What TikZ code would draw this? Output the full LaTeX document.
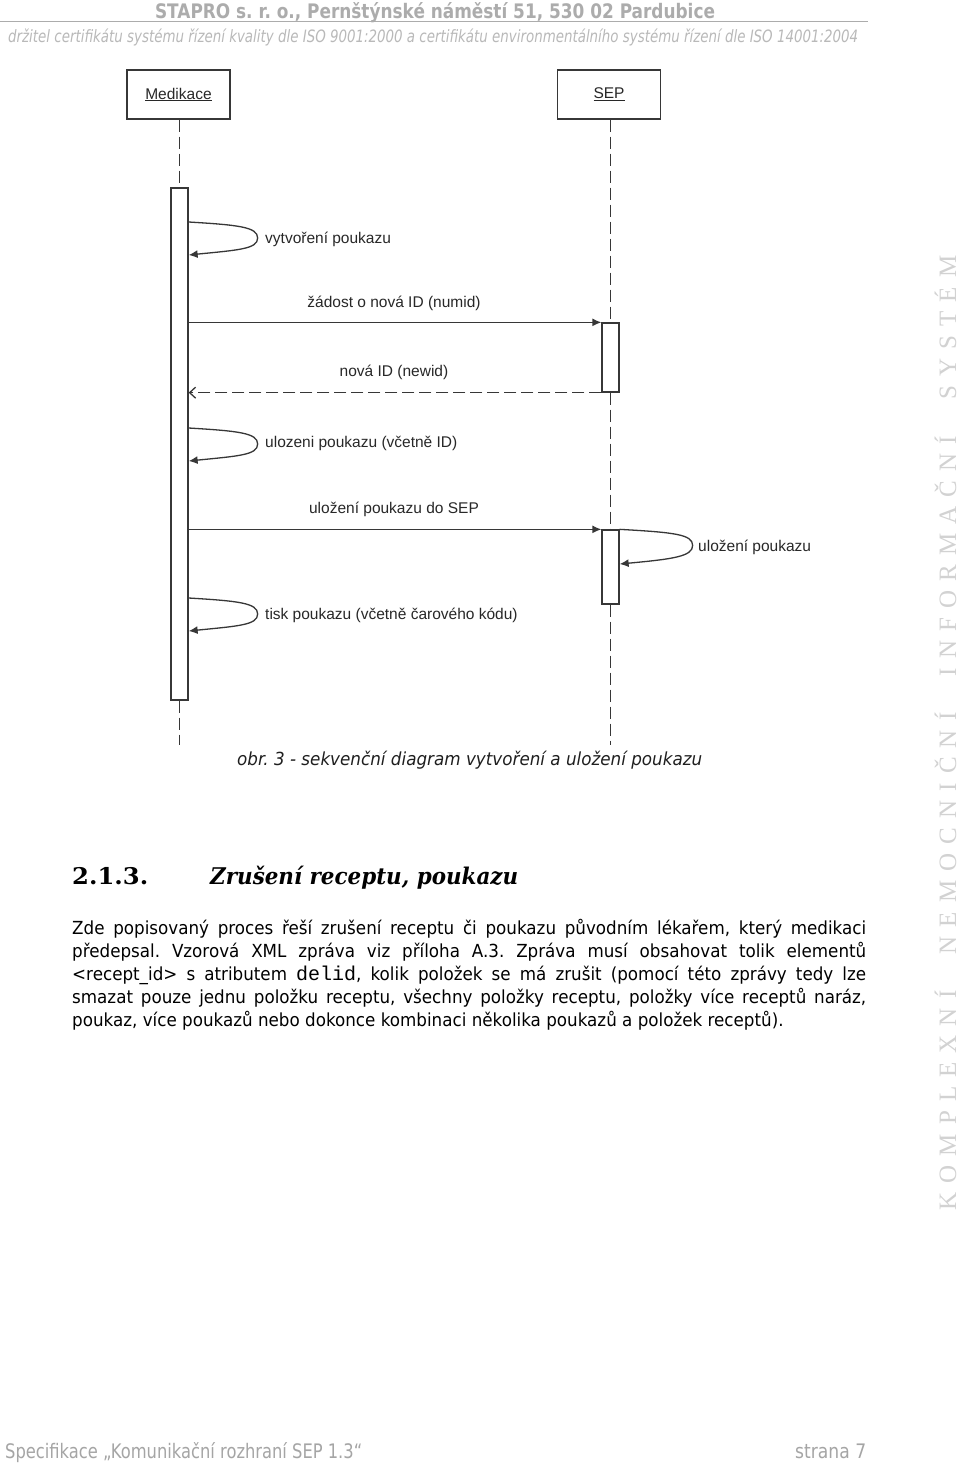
\documentclass[tikz,border=0pt]{standalone}
\usepackage{fontspec}
\usepackage{graphicx}
\usetikzlibrary{arrows.meta}
\setmainfont{Liberation Sans}
\newfontfamily\bodyf[FakeStretch=0.93]{DejaVu Sans}
\newfontfamily\tahf{DejaVu Sans}
\newfontfamily\diagf{Liberation Sans}
\newfontfamily\headf{DejaVu Serif}
\newfontfamily\vertf{Liberation Serif}
\newfontfamily\monof{Liberation Mono}
\definecolor{hdr}{RGB}{172,172,172}
\definecolor{hdrit}{RGB}{185,185,185}
\definecolor{linec}{RGB}{55,55,55}
\definecolor{labc}{RGB}{40,40,40}
\definecolor{vertc}{RGB}{210,210,210}
\definecolor{footc}{RGB}{165,165,165}
\frenchspacing
\begin{document}
\begin{tikzpicture}[x=1pt,y=-1pt,
  lifebox/.style={draw=linec, line width=1.4pt, minimum width=103pt, minimum height=49pt, inner sep=0pt, fill=white, text=labc, font=\diagf\fontsize{15.5}{18}\selectfont},
  actbox/.style={draw=linec, line width=1.3pt, fill=white, minimum width=17pt, inner sep=0pt},
  lifeline/.style={draw=linec, line width=1.3pt, dash pattern=on 12pt off 5pt},
  msg/.style={draw=linec, line width=1.3pt, -{Latex[length=9pt,width=8pt]}},
  ret/.style={draw=linec, line width=1.3pt, dash pattern=on 12pt off 5pt, -{Straight Barb[length=6pt,width=11pt]}},
  mlabel/.style={inner sep=0pt, text=labc, font=\diagf\fontsize{15.5}{18}\selectfont},
  body/.style={inner sep=0pt, text=black, font=\bodyf\fontsize{18}{22}\selectfont},
]
\fill[white] (0,0) rectangle (960,1464);
\useasboundingbox (0,0) rectangle (960,1464);

% page header
\node[anchor=base, inner sep=0pt, text=hdr] (hdr1) at (435,19)
  {\resizebox{560pt}{\height}{\tahf\bfseries\fontsize{20}{24}\selectfont STAPRO s. r. o., Pernštýnské náměstí 51, 530 02 Pardubice}};
\draw[hdr, line width=1pt] (0,22) -- (868,22);
\node[anchor=base west, inner sep=0pt, text=hdrit] (hdr2) at (8,43)
  {\resizebox{850pt}{\height}{\tahf\itshape\fontsize{17}{20}\selectfont držitel certifikátu systému řízení kvality dle ISO 9001:2000 a certifikátu environmentálního systému řízení dle ISO 14001:2004}};

% vertical side text
\node[anchor=base, rotate=90, inner sep=0pt, text=vertc, font=\vertf\fontsize{25}{28}\selectfont] (side) at (956,733)
  {\makebox[955pt][s]{K\hfill O\hfill M\hfill P\hfill L\hfill E\hfill X\hfill N\hfill Í\hfill\hfill\hfill\hfill N\hfill E\hfill M\hfill O\hfill C\hfill N\hfill I\hfill Č\hfill N\hfill Í\hfill\hfill\hfill\hfill I\hfill N\hfill F\hfill O\hfill R\hfill M\hfill A\hfill Č\hfill N\hfill Í\hfill\hfill\hfill\hfill S\hfill Y\hfill S\hfill T\hfill É\hfill M}};

% sequence diagram
\node[lifebox] (med) at (178.5,94.5) {\underline{Medikace}};
\node[lifebox] (sep) at (609,94.5) {\underline{SEP}};
\coordinate (endM) at (179.5,745);
\coordinate (endS) at (610.5,745);

\node[actbox, minimum height=512pt] (actM) at (179.5,444) {};
\node[actbox, minimum height=69pt] (actS1) at (610.5,357.5) {};
\node[actbox, minimum height=74pt] (actS2) at (610.5,567) {};

\draw[lifeline] (med.south -| actM.north) -- (actM.north);
\draw[lifeline] (actM.south) -- (endM);
\draw[lifeline] (sep.south -| actS1.north) -- (actS1.north);
\draw[lifeline] (actS1.south) -- (actS2.north);
\draw[lifeline] (actS2.south) -- (endS);
% redraw boxes over lifelines
\node[actbox, minimum height=512pt] at (actM) {};
\node[actbox, minimum height=69pt] at (actS1) {};
\node[actbox, minimum height=74pt] at (actS2) {};

% messages
\draw[msg] (actM.east |- 0,222) .. controls +(50,3) and +(0,-11) .. ++(69,16)
  .. controls +(0,11) and +(50,-5) .. (actM.east |- 0,255);
\node[mlabel, anchor=base west] (l1) at (265,243) {vytvoření poukazu};

\draw[msg] (actM.east |- actS1.north) -- (actS1.north west);
\node[mlabel, anchor=base] (l2) at (394,307) {žádost o nová ID (numid)};

\draw[ret] (actS1.south west) -- (actM.east |- actS1.south);
\node[mlabel, anchor=base] (l3) at (394,376) {nová ID (newid)};

\draw[msg] (actM.east |- 0,428) .. controls +(50,3) and +(0,-11) .. ++(69,16)
  .. controls +(0,11) and +(50,-5) .. (actM.east |- 0,461);
\node[mlabel, anchor=base west] (l4) at (265,447) {ulozeni poukazu (včetně ID)};

\draw[msg] (actM.east |- actS2.north) -- (actS2.north west);
\node[mlabel, anchor=base] (l5) at (394,513) {uložení poukazu do SEP};

\draw[msg] (actS2.north east) .. controls +(54,3) and +(0,-11) .. ++(73,16)
  .. controls +(0,11) and +(54,-5) .. (actS2.east |- 0,564);
\node[mlabel, anchor=base west] (l6) at (698,551) {uložení poukazu};

\draw[msg] (actM.east |- 0,598) .. controls +(50,3) and +(0,-11) .. ++(69,16)
  .. controls +(0,11) and +(50,-5) .. (actM.east |- 0,631);
\node[mlabel, anchor=base west] (l7) at (265,619) {tisk poukazu (včetně čarového kódu)};

% caption
\node[anchor=base west, inner sep=0pt, text=black!88] (cap) at (237,765)
  {\resizebox{465pt}{\height}{\tahf\itshape\fontsize{18}{22}\selectfont obr. 3 - sekvenční diagram vytvoření a uložení poukazu}};

% heading
\node[anchor=base west, inner sep=0pt] (hnum) at (72,884)
  {\resizebox{76pt}{\height}{\headf\bfseries\fontsize{23}{26}\selectfont 2.1.3.}};
\node[anchor=base west, inner sep=0pt] (htitle) at (210,884)
  {\resizebox{308pt}{\height}{\headf\bfseries\itshape\fontsize{23}{26}\selectfont Zrušení receptu, poukazu}};

% paragraph
\node[body, anchor=base west] (p1) at (72,934) {\makebox[794pt][s]{Zde popisovaný proces řeší zrušení receptu či poukazu původním lékařem, který medikaci}};
\node[body, anchor=base west] (p2) at (72,957) {\makebox[794pt][s]{předepsal. Vzorová XML zpráva viz příloha A.3. Zpráva musí obsahovat tolik elementů}};
\node[body, anchor=base west] (p3) at (72,980) {\makebox[794pt][s]{<recept\_id> s atributem {\monof\fontsize{20}{22}\selectfont delid}, kolik položek se má zrušit (pomocí této zprávy tedy lze}};
\node[body, anchor=base west] (p4) at (72,1003) {\makebox[794pt][s]{smazat pouze jednu položku receptu, všechny položky receptu, položky více receptů naráz,}};
\node[body, anchor=base west] (p5) at (72,1026) {poukaz, více poukazů nebo dokonce kombinaci několika poukazů a položek receptů).};

% footer
\node[anchor=base west, inner sep=0pt, text=footc] (f1) at (5,1458)
  {\resizebox{357pt}{\height}{\tahf\fontsize{20}{24}\selectfont Specifikace „Komunikační rozhraní SEP 1.3“}};
\node[anchor=base west, inner sep=0pt, text=footc] (f2) at (795,1458)
  {\resizebox{71pt}{\height}{\tahf\fontsize{20}{24}\selectfont strana 7}};
\end{tikzpicture}
\end{document}
